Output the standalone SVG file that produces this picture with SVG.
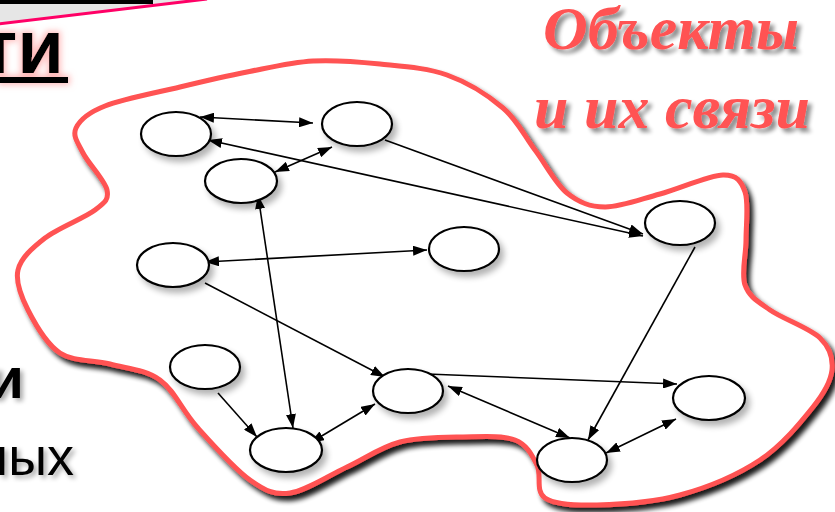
<svg xmlns="http://www.w3.org/2000/svg" width="835" height="512" viewBox="0 0 835 512">
<defs>
<style>
.node ellipse{fill:#fff;stroke:#000;stroke-width:2.2;filter:url(#nshadow)}
.conn line{stroke:#000;stroke-width:1.6}
.red{font-family:"Liberation Serif",serif;font-weight:bold;font-style:italic;font-size:62px;fill:#ff5252;text-anchor:middle;filter:url(#tshadow)}
.blk{font-family:"Liberation Sans",Arial,sans-serif;fill:#000;text-anchor:end}
</style>
<marker id="ah" viewBox="0 0 14 10" refX="14" refY="5" markerWidth="14" markerHeight="10" markerUnits="userSpaceOnUse" orient="auto-start-reverse">
<path d="M0,0 L14,5 L0,10 z" fill="#000"/>
</marker>
<filter id="bshadow" x="-10%" y="-10%" width="130%" height="130%">
<feGaussianBlur in="SourceAlpha" stdDeviation="2.5"/>
<feOffset dx="4" dy="5" result="b"/>
<feComponentTransfer><feFuncA type="linear" slope="0.9"/></feComponentTransfer>
<feMerge><feMergeNode/><feMergeNode in="SourceGraphic"/></feMerge>
</filter>
<filter id="nshadow" x="-30%" y="-30%" width="170%" height="180%">
<feGaussianBlur in="SourceAlpha" stdDeviation="3"/>
<feOffset dx="4" dy="5"/>
<feComponentTransfer><feFuncA type="linear" slope="0.3"/></feComponentTransfer>
<feMerge><feMergeNode/><feMergeNode in="SourceGraphic"/></feMerge>
</filter>
<filter id="tshadow" x="-10%" y="-20%" width="130%" height="160%">
<feGaussianBlur in="SourceAlpha" stdDeviation="2"/>
<feOffset dx="4" dy="4"/>
<feComponentTransfer><feFuncA type="linear" slope="0.45"/></feComponentTransfer>
<feMerge><feMergeNode/><feMergeNode in="SourceGraphic"/></feMerge>
</filter>
<filter id="kshadow" x="-30%" y="-30%" width="170%" height="170%">
<feGaussianBlur in="SourceAlpha" stdDeviation="2.5"/>
<feOffset dx="3" dy="3"/>
<feComponentTransfer><feFuncA type="linear" slope="0.35"/></feComponentTransfer>
<feMerge><feMergeNode/><feMergeNode in="SourceGraphic"/></feMerge>
</filter>
<filter id="glow" x="-40%" y="-40%" width="180%" height="180%">
<feMorphology in="SourceAlpha" operator="dilate" radius="2"/>
<feGaussianBlur stdDeviation="3"/>
<feColorMatrix type="matrix" values="0 0 0 0 1  0 0 0 0 0.35  0 0 0 0 0.35  0 0 0 0.7 0"/>
<feMerge><feMergeNode/><feMergeNode in="SourceGraphic"/></feMerge>
</filter>
</defs>
<rect width="835" height="512" fill="#fff"/>
<g id="banner">
<polygon points="0,0 205,0 0,24" fill="#e6e6e6"/>
<rect x="0" y="0" width="153" height="4" fill="#000"/>
<line x1="-2" y1="24" x2="207" y2="-1" stroke="#ff0066" stroke-width="3"/>
</g>
<g id="heading" filter="url(#glow)">
<text class="blk" x="64" y="73" font-size="76" font-weight="bold">ти</text>
<rect x="0" y="77" width="68" height="6" fill="#000"/>
</g>
<g id="side-text" filter="url(#kshadow)">
<text class="blk" x="24" y="398" font-size="58" font-weight="bold">и</text>
<text class="blk" x="74" y="475" font-size="54">ных</text>
</g>
<g id="blob">
<path d="M313,61 C335.2,59.7 357.7,61.7 380,64 S426.5,67.7 447,75 S488.3,95.5 503,108 S524.3,135.8 535,150 S555.3,183.5 567,193 S589.5,206.8 605,207 S640.3,199.3 660,194 S708.8,175.3 723,175 S741.2,181.2 745,192 S746,224.5 746,240 S741,273.3 745,285 S757.5,301.2 770,310 S809.7,328 820,338 S833.2,358.5 832,370 S825,392 813,407 S782.2,445.3 760,460 S707.2,487.5 680,495 S619.5,504.5 597,505 S555,504.7 545,498 S542,474.7 537,465 S527.3,444.7 515,440 S482.2,436.7 463,437 S419.3,437 400,442 S365.3,458.5 347,467 S306.2,490.8 290,493 S265.5,491 250,480 S212,443.7 197,427 S174.5,390.5 160,380 S126.7,368.5 110,364 S73.7,362 60,353 S35,323.8 28,310 S15.2,282 18,270 S32.2,248 45,238 S84.7,218 95,210 S109,199.5 107,190 S88.2,163.3 83,153 S72.3,135.8 76,128 S87.7,112.8 105,106 S156.3,92.7 180,87 S224.8,76.3 247,72 S290.8,62.3 313,61 Z" fill="#fff" stroke="#ff5252" stroke-width="5" filter="url(#bshadow)"/>
</g>
<g id="title">
<text class="red" x="671" y="49">Объекты</text>
<text class="red" x="672" y="128">и их связи</text>
</g>
<g id="connectors" class="conn">
<line x1="200" y1="117" x2="313" y2="123" marker-start="url(#ah)" marker-end="url(#ah)"/>
<line x1="208" y1="140" x2="643" y2="236" marker-start="url(#ah)" marker-end="url(#ah)"/>
<line x1="385" y1="140" x2="643" y2="234" marker-end="url(#ah)"/>
<line x1="332" y1="147" x2="275" y2="172" marker-start="url(#ah)" marker-end="url(#ah)"/>
<line x1="258" y1="195" x2="293" y2="428" marker-start="url(#ah)" marker-end="url(#ah)"/>
<line x1="205" y1="262" x2="427" y2="250" marker-start="url(#ah)" marker-end="url(#ah)"/>
<line x1="205" y1="283" x2="385" y2="377" marker-end="url(#ah)"/>
<line x1="218" y1="393" x2="257" y2="437" marker-end="url(#ah)"/>
<line x1="310" y1="443" x2="375" y2="404" marker-start="url(#ah)" marker-end="url(#ah)"/>
<line x1="427" y1="374" x2="677" y2="384" marker-end="url(#ah)"/>
<line x1="448" y1="386" x2="570" y2="438" marker-start="url(#ah)" marker-end="url(#ah)"/>
<line x1="695" y1="247" x2="588" y2="440" marker-end="url(#ah)"/>
<line x1="606" y1="453" x2="676" y2="419" marker-start="url(#ah)" marker-end="url(#ah)"/>
</g>
<g id="n1" class="node"><ellipse cx="176" cy="134" rx="35" ry="22"/></g>
<g id="n2" class="node"><ellipse cx="357" cy="124" rx="35" ry="22"/></g>
<g id="n3" class="node"><ellipse cx="241" cy="181" rx="36" ry="22"/></g>
<g id="n4" class="node"><ellipse cx="173" cy="265" rx="36" ry="22"/></g>
<g id="n5" class="node"><ellipse cx="464" cy="249" rx="35" ry="22"/></g>
<g id="n6" class="node"><ellipse cx="680" cy="223" rx="35" ry="22"/></g>
<g id="n7" class="node"><ellipse cx="408" cy="391" rx="35" ry="22"/></g>
<g id="n8" class="node"><ellipse cx="205" cy="367" rx="35" ry="22"/></g>
<g id="n9" class="node"><ellipse cx="286" cy="450" rx="36" ry="22"/></g>
<g id="n10" class="node"><ellipse cx="709" cy="398" rx="36" ry="22"/></g>
<g id="n11" class="node"><ellipse cx="572" cy="460" rx="35" ry="22"/></g>
</svg>
